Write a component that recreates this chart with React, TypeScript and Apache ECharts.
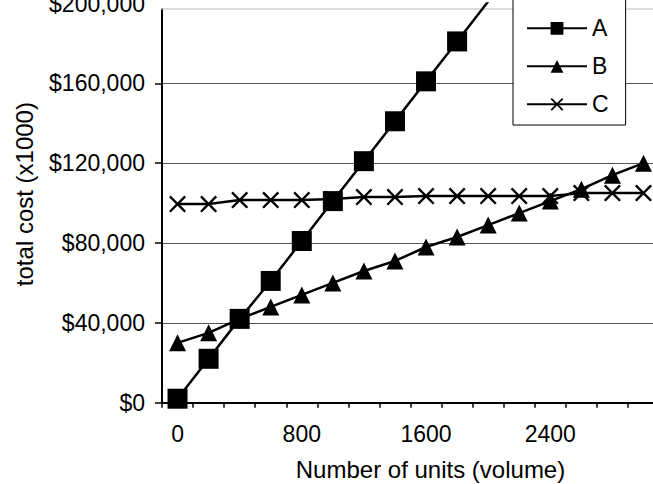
import React, { useEffect, useRef } from "react";
import * as echarts from "echarts";

const units = ["0", "200", "400", "600", "800", "1000", "1200", "1400", "1600", "1800", "2000", "2200", "2400", "2600", "2800", "3000"];
const costA = [2000, 22000, 42000, 61000, 81000, 101000, 121000, 141000, 161000, 181000, 201000, null, null, null, null, null];
const costB = [30000, 35000, 42000, 48000, 54000, 60000, 66000, 71000, 78000, 83000, 89000, 95000, 101000, 107000, 114000, 120000];
const costC = [99500, 99500, 101500, 101500, 101500, 102000, 103000, 103000, 103500, 103500, 103500, 103500, 103500, 105000, 105000, 105000];
const seriesNames = ["A", "B", "C"];
const yMin = 0;
const yMax = 200000;
const yStep = 40000;

const FONT = "'Liberation Sans', Arial, sans-serif";
const crossPath = "path://M0,1L1,0L5,4L9,0L10,1L6,5L10,9L9,10L5,6L1,10L0,9L4,5Z";

function money(v: number): string {
  return "$" + String(v).replace(/\B(?=(\d{3})+(?!\d))/g, ",");
}

export default function App() {
  const ref = useRef<HTMLDivElement>(null);
  useEffect(() => {
    document.body.style.margin = "0";
    document.body.style.overflow = "hidden";
    if (!ref.current) return;
    const chart = echarts.init(ref.current, null, { renderer: "svg" });
    const line = { color: "#000", width: 2.5 };
    chart.setOption({
      animation: false,
      backgroundColor: "#fff",
      textStyle: { fontFamily: FONT, color: "#000" },
      grid: { left: 162, top: 3.5, width: 497, height: 399.2, outerBoundsMode: "none", containLabel: false },
      legend: {
        data: seriesNames,
        orient: "vertical",
        left: 513,
        top: -10,
        padding: [26.8, 17, 9.2, 13],
        itemWidth: 60,
        itemHeight: 16,
        itemGap: 15,
        backgroundColor: "#fff",
        borderColor: "#000",
        borderWidth: 1,
        borderRadius: 0,
        textStyle: { fontFamily: FONT, fontSize: 23, color: "#000" },
        z: 5,
      },
      xAxis: {
        type: "category",
        data: units,
        boundaryGap: true,
        name: "Number of units (volume)",
        nameLocation: "middle",
        nameGap: 55,
        nameTextStyle: { fontFamily: FONT, fontSize: 24, color: "#000", padding: [0, 0, 0, 40] },
        axisLine: { show: true, lineStyle: { color: "#000", width: 2 } },
        axisTick: { show: true, interval: 0, alignWithLabel: false, length: 5, lineStyle: { color: "#000", width: 1.5 } },
        axisLabel: { interval: 3, margin: 20, fontFamily: FONT, fontSize: 23, color: "#000" },
        splitLine: { show: false },
      },
      yAxis: {
        type: "value",
        min: yMin,
        max: yMax,
        interval: yStep,
        name: "total cost (x1000)",
        nameLocation: "middle",
        nameGap: 126,
        nameTextStyle: { fontFamily: FONT, fontSize: 24, color: "#000", padding: [0, 0, 0, 18] },
        axisLine: { show: true, lineStyle: { color: "#000", width: 2 } },
        axisTick: { show: true, length: 7, lineStyle: { color: "#000", width: 1.5 } },
        axisLabel: { margin: 17, fontFamily: FONT, fontSize: 23, color: "#000", formatter: (v: number) => money(v) },
        splitLine: { show: true, lineStyle: { color: "#555", width: 1 } },
      },
      graphic: [
        { type: "rect", z: 3, shape: { x: 150, y: -2, width: 510, height: 10.5 }, style: { fill: "#fff" } },
        { type: "line", z: 3, shape: { x1: 161, y1: 9, x2: 653, y2: 9 }, style: { stroke: "#bbb", lineWidth: 1 } },
      ],
      series: [
        {
          name: "C",
          type: "line",
          data: costC,
          symbol: crossPath,
          symbolSize: 17,
          lineStyle: line,
          itemStyle: { color: "#000" },
        },
        {
          name: "B",
          type: "line",
          data: costB,
          symbol: "triangle",
          symbolSize: 17,
          lineStyle: line,
          itemStyle: { color: "#000" },
        },
        {
          name: "A",
          type: "line",
          data: costA,
          symbol: "rect",
          symbolSize: 20,
          lineStyle: line,
          itemStyle: { color: "#000" },
        },
      ],
    });
    return () => chart.dispose();
  }, []);
  return <div ref={ref} style={{ width: 653, height: 484 }} />;
}
